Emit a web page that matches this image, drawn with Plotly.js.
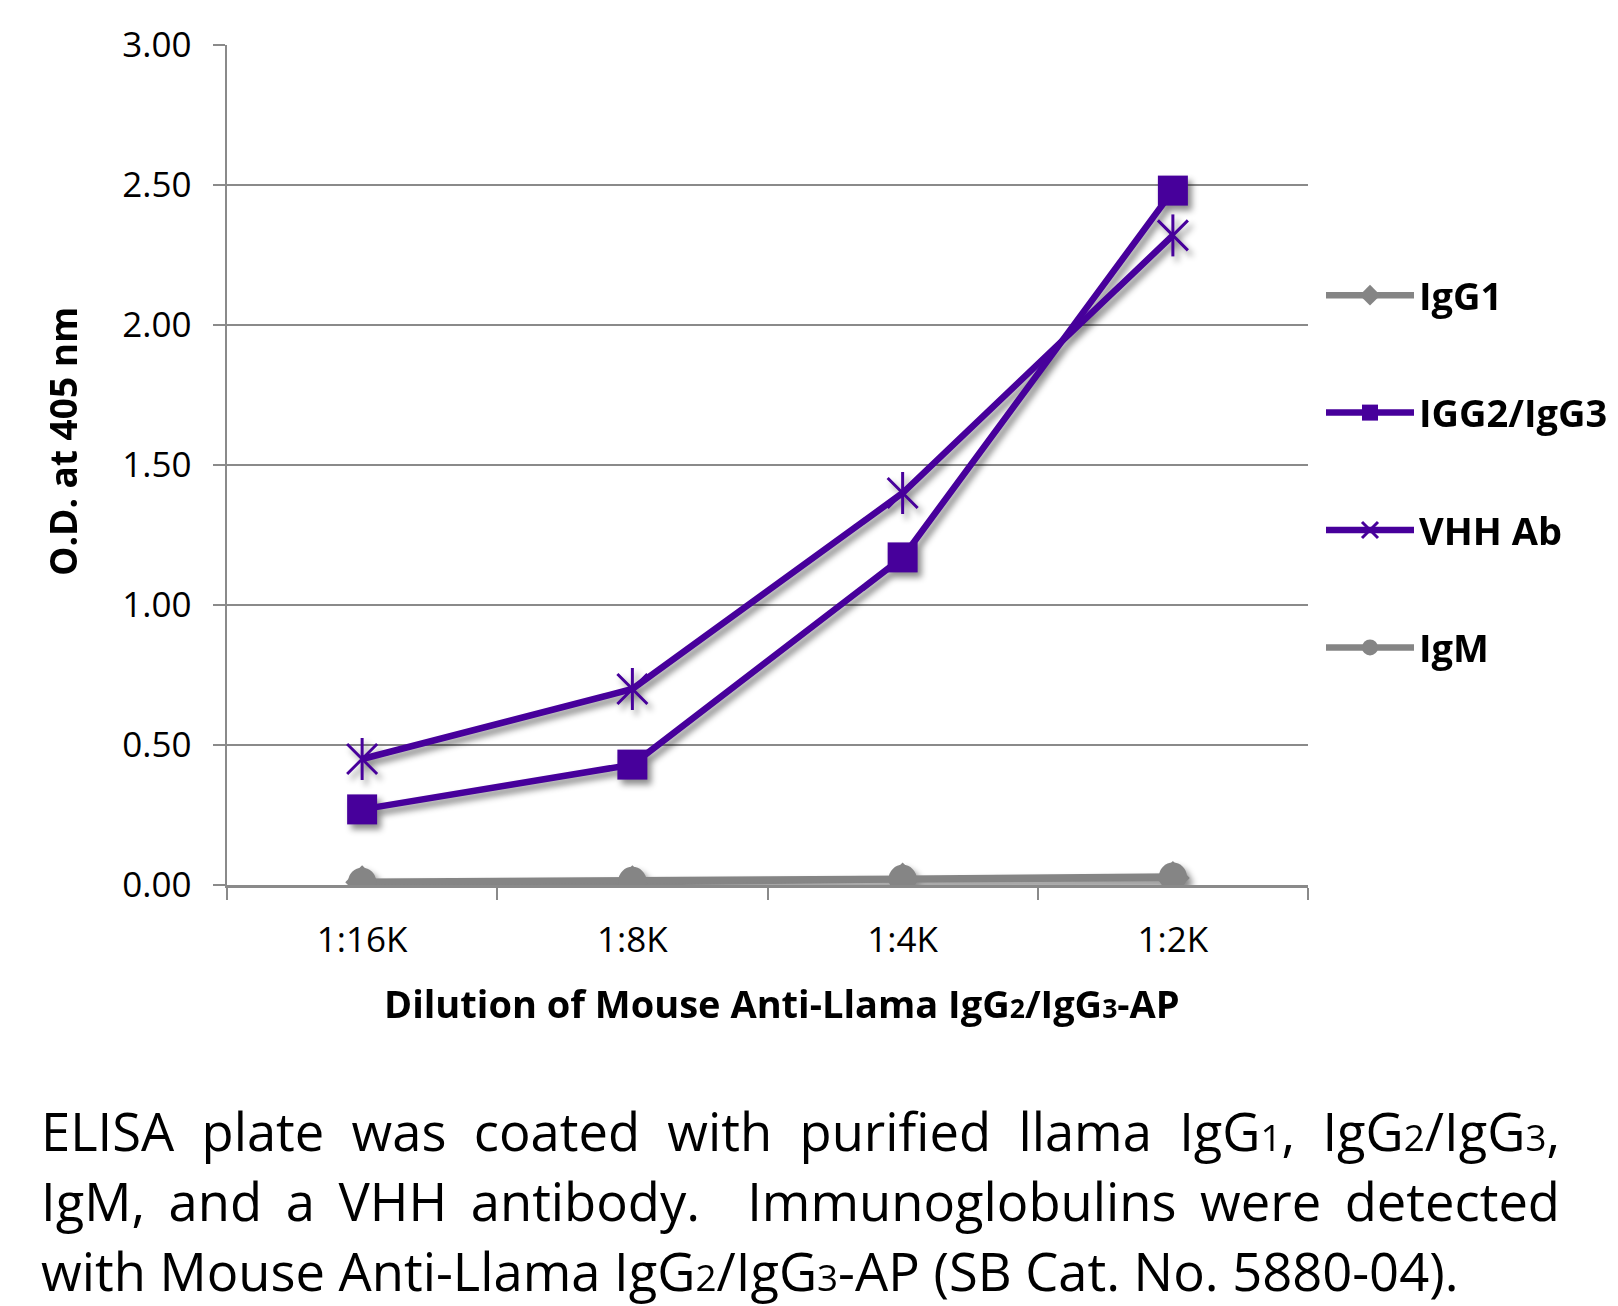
<!DOCTYPE html>
<html><head><meta charset="utf-8">
<script src="https://cdn.plot.ly/plotly-3.0.1.min.js"></script>
<style>
html,body{margin:0;padding:0;background:#fff;}
#chart{width:1618px;height:1306px;}
#chart .scatterlayer{filter:drop-shadow(4px 5px 3px rgba(0,0,0,0.45));}
</style></head><body><div id="chart"></div><script>
// ---- data ----
const categories = ['1:16K', '1:8K', '1:4K', '1:2K'];
const igg1 = [0.01, 0.01, 0.02, 0.025];
const igg2igg3 = [0.27, 0.43, 1.17, 2.48];
const vhh = [0.45, 0.70, 1.40, 2.32];
const igm = [0.012, 0.015, 0.022, 0.03];
const seriesNames = ['IgG1', 'IGG2/IgG3', 'VHH Ab', 'IgM'];
const yTitle = 'O.D. at 405 nm';
const xTitle = 'Dilution of Mouse Anti-Llama IgG<span style="font-size:70%">2</span>/IgG<span style="font-size:70%">3</span>-AP';
const captionLines = [
  'ELISA plate was coated with purified llama IgG<span style="font-size:70%">1</span>, IgG<span style="font-size:70%">2</span>/IgG<span style="font-size:70%">3</span>,',
  'IgM, and a VHH antibody.\u00A0 Immunoglobulins were detected',
  'with Mouse Anti-Llama IgG<span style="font-size:70%">2</span>/IgG<span style="font-size:70%">3</span>-AP (SB Cat. No. 5880-04).'
];

const FONT = '"Open Sans", "Noto Sans", sans-serif';
const PURPLE = '#47009b';
const GREY = '#858585';
const AXIS = '#8a8a8a';

const traces = [
  {x: categories, y: igg1, name: seriesNames[0], type: 'scatter', mode: 'lines+markers', legendgroup: 'a',
   line: {color: GREY, width: 6.5}, marker: {symbol: 'diamond', size: 26, color: GREY}},
  {x: categories, y: igg2igg3, name: seriesNames[1], type: 'scatter', mode: 'lines+markers', legendgroup: 'b',
   line: {color: PURPLE, width: 6.5}, marker: {symbol: 'square', size: 30, color: PURPLE}},
  {x: categories, y: vhh, name: seriesNames[2], type: 'scatter', mode: 'lines+markers', legendgroup: 'c',
   line: {color: PURPLE, width: 6.5}, marker: {symbol: 'x-thin-open', size: 30, color: PURPLE, line: {color: PURPLE, width: 3}}},
  {x: categories, y: vhh, name: seriesNames[2], type: 'scatter', mode: 'markers', legendgroup: 'c', showlegend: false,
   marker: {symbol: 'line-ns-open', size: 30, color: PURPLE, line: {color: PURPLE, width: 3}}},
  {x: categories, y: igm, name: seriesNames[3], type: 'scatter', mode: 'lines+markers', legendgroup: 'd',
   line: {color: GREY, width: 6.5}, marker: {symbol: 'circle', size: 28, color: GREY}}
];

// page pixel -> paper coordinates (plot area: x 227..1308, y 45..885)
const px = v => (v - 227) / 1081;
const py = v => (885 - v) / 840;
const capY = [1130, 1200, 1270];

const layout = {
  width: 1618, height: 1306,
  margin: {l: 227, r: 310, t: 45, b: 421, autoexpand: false},
  paper_bgcolor: '#fff', plot_bgcolor: '#fff',
  font: {family: FONT, color: '#000'},
  showlegend: true,
  xaxis: {
    type: 'category', range: [-0.5, 3.5], showgrid: false, zeroline: false,
    showline: true, linecolor: AXIS, linewidth: 2.5, automargin: false,
    ticks: 'outside', tickson: 'boundaries', ticklen: 12, tickwidth: 2, tickcolor: AXIS,
    tickfont: {size: 35, family: FONT}, ticklabelstandoff: 22
  },
  yaxis: {
    range: [0, 3], tick0: 0, dtick: 0.5, tickformat: '.2f', automargin: false,
    showgrid: true, gridcolor: AXIS, gridwidth: 2.5, zeroline: false,
    showline: true, linecolor: AXIS, linewidth: 2.5,
    ticks: 'outside', ticklen: 12, tickwidth: 2, tickcolor: AXIS,
    tickfont: {size: 35, family: FONT}, ticklabelstandoff: 14
  },
  legend: {
    xref: 'container', yref: 'container',
    x: 1321 / 1618, xanchor: 'left', y: 1 - 264 / 1306, yanchor: 'top',
    font: {size: 38, family: FONT, weight: 'bold'},
    traceorder: 'grouped', tracegroupgap: 65, itemwidth: 88,
    bgcolor: 'rgba(0,0,0,0)'
  },
  annotations: [
    {text: yTitle, xref: 'paper', yref: 'paper', x: px(62), y: py(442), textangle: -90,
     xanchor: 'center', yanchor: 'middle', showarrow: false,
     font: {size: 37, family: FONT, weight: 'bold', color: '#000'}},
    {text: xTitle, xref: 'paper', yref: 'paper', x: px(782), y: py(1003),
     xanchor: 'center', yanchor: 'middle', showarrow: false,
     font: {size: 38, family: FONT, weight: 'bold', color: '#000'}}
  ].concat(captionLines.map((t, i) => ({
    text: t, xref: 'paper', yref: 'paper', x: px(39), y: py(capY[i]),
    xanchor: 'left', yanchor: 'middle', align: 'left', showarrow: false,
    font: {size: 52.5, family: FONT, color: '#000'}
  })))
};

Plotly.newPlot('chart', traces, layout, {displayModeBar: false, staticPlot: true}).then(function (gd) {
  // justify the first two caption lines to the caption width
  const target = 1519;
  const anns = gd.querySelectorAll('.annotation');
  [2, 3].forEach(function (i) {
    const el = anns[i] && anns[i].querySelector('text.annotation-text');
    if (!el) return;
    const len = el.getComputedTextLength();
    const n = (el.textContent.match(/[ \u00A0]/g) || []).length;
    if (n > 0 && len < target) el.style.wordSpacing = ((target - len) / n) + 'px';
  });
});
</script></body></html>
